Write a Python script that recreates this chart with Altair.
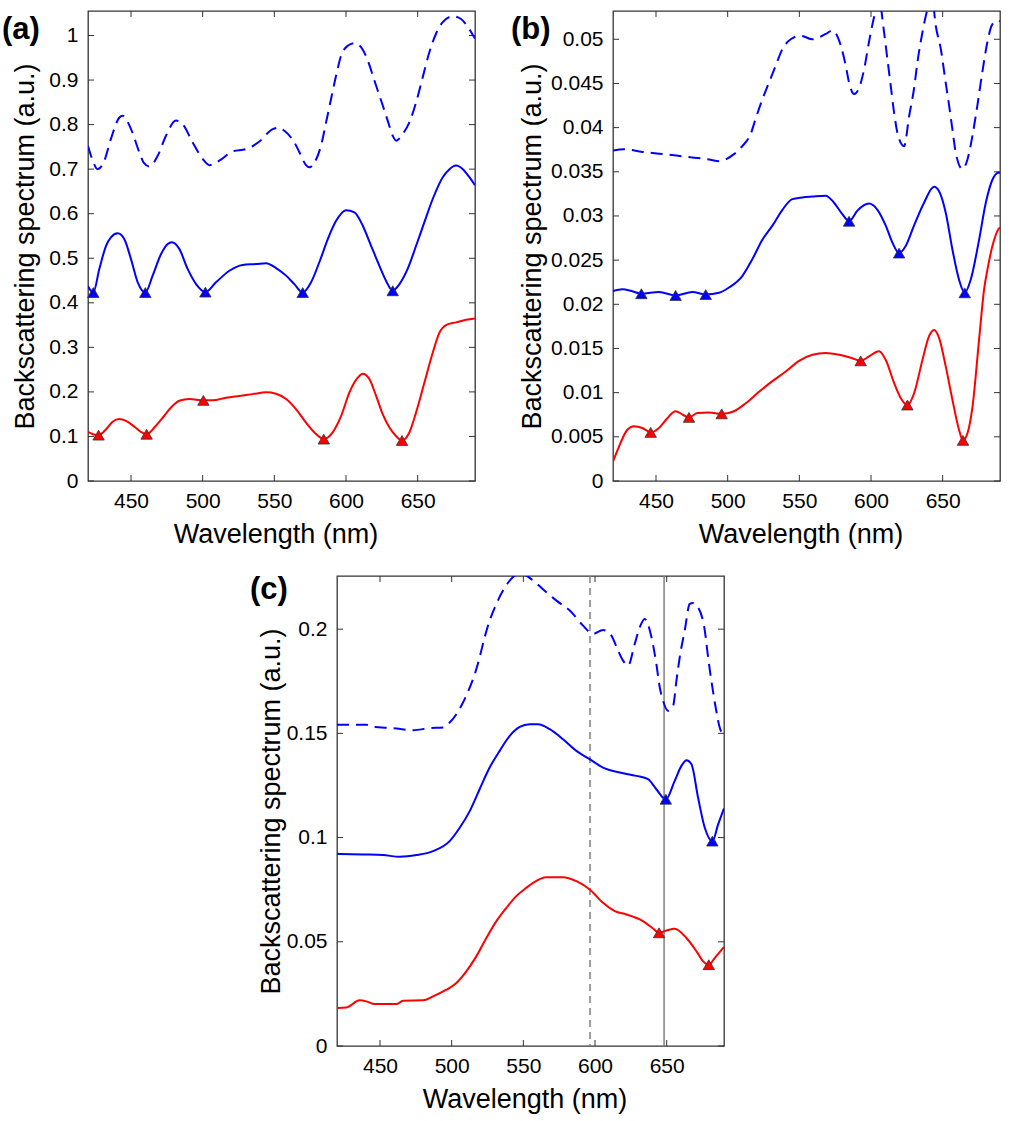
import altair as alt
import pandas as pd

FONT = "Liberation Sans"
BLUE = "#0000ff"
RED = "#ff0000"
EDGE = "#333333"
FRAME = "#333333"
VLINE = "#808080"

X_TICKS = [450, 500, 550, 600, 650]
X_DOMAIN = [420, 690]
W, H = 387, 470
X_TITLE = "Wavelength (nm)"
Y_TITLE = "Backscattering spectrum (a.u.)"

# ---------------- panel (a) ----------------
A_YTICKS = [0, 0.1, 0.2, 0.3, 0.4, 0.5, 0.6, 0.7, 0.8, 0.9, 1]
A_YMAX = 1.055
A_DASH_WL = [420, 423, 426.7, 431.4, 436, 441.9, 444.2, 450, 455.8, 459, 462.8, 468.6, 474.4, 481.4, 486, 493,
             500, 504.7, 511.6, 521, 530.3, 539.6, 548.9, 553.5, 557, 564, 567.5, 572.1, 574.5, 578, 582.6, 586.1,
             589.6, 593.1, 596.6, 601.2, 605.9, 610.5, 615.2, 619.8, 624.5, 629.1, 632.6, 635, 639.6, 644.2, 648.9,
             653.5, 658.2, 662.8, 667.5, 674.5, 680.3, 685, 690]
A_DASH_VAL = [0.752, 0.722, 0.700, 0.719, 0.768, 0.816, 0.820, 0.790, 0.738, 0.714, 0.706, 0.730, 0.775, 0.809, 0.801, 0.760,
              0.723, 0.709, 0.719, 0.740, 0.745, 0.762, 0.790, 0.793, 0.786, 0.760, 0.738, 0.709, 0.704, 0.715, 0.753, 0.805,
              0.858, 0.910, 0.955, 0.977, 0.983, 0.974, 0.944, 0.899, 0.854, 0.809, 0.775, 0.764, 0.779, 0.805, 0.850,
              0.906, 0.963, 1.004, 1.030, 1.043, 1.037, 1.019, 0.993]
A_BLUE_WL = [420, 423.7, 427.9, 432.6, 436, 440.7, 445.3, 450, 454.7, 460, 465.1, 470.9, 475.6, 478.6, 483.7, 489.5,
             495.4, 501.9, 509.3, 518.6, 527.9, 537.2, 544.2, 551.2, 558.2, 564, 569.8, 575.6, 581.4, 587.3, 593.1, 600,
             605.9, 611.7, 617.5, 623.3, 628, 632.6, 637.3, 643, 648.9, 654.7, 660.5, 667.5, 672.2, 676.8, 681.5, 686.1, 690]
A_BLUE_VAL = [0.437, 0.423, 0.476, 0.528, 0.547, 0.556, 0.543, 0.498, 0.446, 0.423, 0.461, 0.509, 0.532, 0.536, 0.521, 0.476,
              0.442, 0.424, 0.446, 0.472, 0.485, 0.487, 0.489, 0.478, 0.461, 0.442, 0.423, 0.446, 0.491, 0.543, 0.584, 0.608,
              0.603, 0.573, 0.528, 0.483, 0.449, 0.427, 0.442, 0.476, 0.528, 0.581, 0.633, 0.682, 0.700, 0.708, 0.700, 0.682, 0.664]
A_RED_WL = [420, 423.5, 427.4, 432.6, 437.2, 441.9, 446.5, 452.3, 457, 460.9, 466.3, 472.1, 477.9, 483.7, 490.7, 500.5,
            507, 516.3, 525.6, 534.9, 544.2, 551.2, 558.2, 565.2, 572.1, 578, 584.5, 590.7, 596.6, 602.4, 608.2, 611.7,
            616.3, 621, 625.6, 630.3, 634.9, 639.1, 644.2, 648.9, 654.7, 660.5, 665.2, 669.8, 676.8, 683.8, 690]
A_RED_VAL = [0.110, 0.105, 0.103, 0.116, 0.133, 0.139, 0.135, 0.122, 0.110, 0.105, 0.120, 0.142, 0.165, 0.180, 0.184, 0.181,
             0.181, 0.187, 0.191, 0.195, 0.199, 0.196, 0.184, 0.161, 0.131, 0.109, 0.094, 0.109, 0.146, 0.199, 0.232, 0.241,
             0.229, 0.191, 0.150, 0.120, 0.101, 0.091, 0.109, 0.154, 0.221, 0.288, 0.333, 0.350, 0.356, 0.362, 0.365]
A_BMARK_WL = [423.7, 460, 501.9, 569.8, 632.6]
A_BMARK_VAL = [0.423, 0.423, 0.424, 0.423, 0.427]
A_RMARK_WL = [427.4, 460.9, 500.5, 584.5, 639.1]
A_RMARK_VAL = [0.103, 0.105, 0.181, 0.094, 0.091]

# ---------------- panel (b) ----------------
B_YTICKS = [0, 0.005, 0.01, 0.015, 0.02, 0.025, 0.03, 0.035, 0.04, 0.045, 0.05]
B_YMAX = 0.0532
B_DASH_WL = [420, 427.7, 440.5, 455.6, 470.7, 487, 494, 498.6, 504.4, 510.2, 516.1, 519.5, 524.2, 528.8, 533.5, 538.2,
             544, 550.9, 559.1, 568.4, 573.1, 578.9, 582.4, 584.7, 588.2, 591.7, 595.2, 598.6, 602.1, 605.5, 609.1,
             611.4, 613.8, 616.1, 618.9, 623.1, 626.6, 630, 632.4, 635.9, 639.4, 642.5, 645.2, 648.7, 652.1, 654.5,
             656.8, 659.1, 663.8, 667.3, 670.8, 674.2, 677.7, 681.2, 684.7, 688.9, 690]
B_DASH_VAL = [0.0374, 0.03755, 0.03725, 0.0370, 0.0367, 0.0364, 0.0362, 0.0364, 0.0370, 0.0379, 0.0393, 0.0410, 0.0432, 0.0451, 0.0470, 0.0489,
              0.0500, 0.0504, 0.0500, 0.0506, 0.0510, 0.0493, 0.0470, 0.0451, 0.0438, 0.0445, 0.0466, 0.0497, 0.0525, 0.0545, 0.0508,
              0.0478, 0.0447, 0.0417, 0.0391, 0.0379, 0.0413, 0.0444, 0.0474, 0.0508, 0.0534, 0.0548, 0.0515, 0.0489, 0.0451, 0.0425,
              0.0398, 0.0372, 0.0353, 0.0364, 0.0391, 0.0425, 0.0463, 0.0497, 0.0517, 0.0521, 0.0520]
B_BLUE_WL = [420, 426.5, 433, 439.8, 452.1, 463.7, 475.4, 484.7, 494, 500.9, 510.2, 517.2, 524.2, 531.2, 538.2, 545.1,
             552.1, 559.1, 568.4, 574.2, 580, 584.7, 590.5, 598.6, 604.5, 610.3, 614.9, 619.6, 624.2, 630, 637, 644,
             647.5, 652.1, 656.8, 661.4, 665.4, 669.6, 675.4, 680.1, 684.7, 688.9, 690]
B_BLUE_VAL = [0.0215, 0.0217, 0.0215, 0.0212, 0.0214, 0.0210, 0.0214, 0.0211, 0.0213, 0.0219, 0.0232, 0.0251, 0.0273, 0.0289, 0.0307, 0.0319,
              0.0321, 0.0322, 0.0323, 0.0315, 0.0302, 0.0294, 0.0306, 0.0314, 0.0307, 0.0289, 0.0270, 0.0258, 0.0266, 0.0289, 0.0315, 0.0333,
              0.0328, 0.0304, 0.0262, 0.0228, 0.0213, 0.0228, 0.0273, 0.0315, 0.0341, 0.0349, 0.0349]
B_RED_WL = [420, 424.2, 430, 434.6, 440.5, 446.3, 452.1, 457.9, 463.7, 468.8, 473, 478.8, 487, 495.8, 504.4, 512.6,
            521.9, 531.2, 540.5, 549.8, 559.1, 568.4, 577.7, 587, 592.8, 598.6, 605.6, 610.3, 616.1, 620.7, 625.4, 630,
            635.9, 640.5, 644, 647.5, 652.1, 656.8, 661.4, 664.2, 667.3, 670.8, 675.4, 678.9, 681.2, 684.7, 688.9, 690]
B_RED_VAL = [0.0022, 0.0039, 0.0058, 0.0062, 0.0060, 0.0055, 0.0060, 0.0071, 0.0079, 0.0075, 0.0072, 0.0077, 0.00775, 0.0076, 0.0079, 0.0088,
             0.0101, 0.0113, 0.0124, 0.0136, 0.0143, 0.0145, 0.0143, 0.0139, 0.0136, 0.0141, 0.0147, 0.0137, 0.0111, 0.0094, 0.0086, 0.0099,
             0.0137, 0.0164, 0.0171, 0.0162, 0.0130, 0.0092, 0.0058, 0.0046, 0.0054, 0.0084, 0.0160, 0.0217, 0.0239, 0.0266, 0.0285, 0.0287]
B_BMARK_WL = [439.8, 463.7, 484.7, 584.7, 619.6, 665.4]
B_BMARK_VAL = [0.0212, 0.0210, 0.0211, 0.0294, 0.0258, 0.0213]
B_RMARK_WL = [446.3, 473, 495.8, 592.8, 625.4, 664.2]
B_RMARK_VAL = [0.0055, 0.0072, 0.0076, 0.0136, 0.0086, 0.0046]

# ---------------- panel (c) ----------------
C_YTICKS = [0, 0.05, 0.1, 0.15, 0.2]
C_YMAX = 0.2255
C_DASH_WL = [420, 440.5, 445.1, 459, 473, 484.7, 494, 498.6, 503.3, 507.9, 512.6, 516.1, 519.5, 523, 526.5, 531.2,
             535.8, 540.5, 545.1, 549.8, 556.8, 566.1, 573.1, 582.4, 591.7, 598.6, 605.6, 611.4, 616.1, 619.6, 623.1,
             627.7, 631.2, 634.7, 639.4, 642.8, 645.2, 647.5, 651, 654.5, 656.8, 659.1, 662.6, 666.1, 668.4, 671.9,
             676.6, 678.9, 681.2, 684.2, 687, 690]
C_DASH_VAL = [0.1541, 0.1541, 0.1531, 0.1525, 0.1515, 0.1525, 0.1528, 0.1552, 0.1592, 0.1648, 0.1720, 0.1784, 0.1865, 0.1961, 0.2041, 0.2121,
              0.2185, 0.2233, 0.2260, 0.2262, 0.2233, 0.2177, 0.2137, 0.2089, 0.2017, 0.1977, 0.1996, 0.1969, 0.1897, 0.1849, 0.1825,
              0.1929, 0.2009, 0.2049, 0.1961, 0.1833, 0.1720, 0.1656, 0.1608, 0.1632, 0.1752, 0.1865, 0.1993, 0.2121, 0.2126, 0.2105,
              0.1993, 0.1865, 0.1752, 0.1624, 0.1528, 0.1488]
C_BLUE_WL = [420, 438.1, 452.1, 463.7, 475.4, 487, 498.6, 505.6, 512.6, 519.5, 526.5, 533.5, 540.5, 547.5, 554.4, 560.3,
             568.4, 577.7, 587, 596.3, 605.6, 617.3, 628.9, 637, 642.8, 649.4, 655.6, 660.3, 663.8, 667.3, 671.9, 676.6,
             681.9, 685.9, 690]
C_BLUE_VAL = [0.0922, 0.0919, 0.0916, 0.0908, 0.0916, 0.0935, 0.0983, 0.1047, 0.1127, 0.1232, 0.1336, 0.1416, 0.1488, 0.1531, 0.1544, 0.1544,
              0.1520, 0.1472, 0.1416, 0.1376, 0.1336, 0.1312, 0.1296, 0.1280, 0.1232, 0.1184, 0.1272, 0.1344, 0.1371, 0.1352, 0.1192, 0.1047,
              0.0983, 0.1063, 0.1140]
C_RED_WL = [420, 426.5, 435.8, 440.5, 446.3, 461.4, 466, 480, 487, 496.3, 503.3, 510.2, 517.2, 524.2, 531.2, 538.2,
            545.1, 552.1, 556.8, 566.1, 577.7, 587, 596.3, 605.6, 613.8, 621.9, 631.2, 639.4, 644.7, 649.8, 655.6, 663.8,
            670.8, 675.4, 679.4, 683.5, 690]
C_RED_VAL = [0.0182, 0.0185, 0.0219, 0.0214, 0.0201, 0.0201, 0.0217, 0.0219, 0.0238, 0.0270, 0.0302, 0.0358, 0.0430, 0.0518, 0.0599, 0.0663,
             0.0719, 0.0759, 0.0783, 0.0810, 0.0810, 0.0791, 0.0751, 0.0687, 0.0647, 0.0631, 0.0607, 0.0570, 0.0543, 0.0554, 0.0563, 0.0518,
             0.0454, 0.0406, 0.0390, 0.0422, 0.0475]
C_BMARK_WL = [649.4, 681.9]
C_BMARK_VAL = [0.1184, 0.0983]
C_RMARK_WL = [644.7, 679.4]
C_RMARK_VAL = [0.0543, 0.0390]
C_VLINE_DASHED = [596.5]
C_VLINE_SOLID = [648.2]

PANEL_LABELS = ["(a)", "(b)", "(c)"]


def df(wl, val=None):
    d = {"wl": wl}
    if val is not None:
        d["val"] = val
    return pd.DataFrame(d)


def panel(dash, blue, red, bmark, rmark, ymax, yticks, ytitle_x, label, label_dx, label_down,
          vdash=None, vsolid=None):
    xs = alt.Scale(domain=X_DOMAIN, nice=False, zero=False)
    ys = alt.Scale(domain=[0, ymax], nice=False, zero=False)
    xax = alt.Axis(values=X_TICKS, title=X_TITLE, domain=False, ticks=False, tickSize=0, grid=False,
                   labelFont=FONT, labelFontSize=21, labelColor="black", labelPadding=26,
                   labelBaseline="alphabetic", labelFlush=False, labelOverlap=False,
                   titleFont=FONT, titleFontSize=27, titleFontWeight="normal", titleColor="black",
                   titleX=W / 2 - 6, titleY=61, titleBaseline="alphabetic", titleAlign="center")
    yax = alt.Axis(values=yticks, title=Y_TITLE, format="~g", domain=False, ticks=False, tickSize=0, grid=False,
                   labelFont=FONT, labelFontSize=21, labelColor="black", labelPadding=10,
                   labelFlush=False, labelOverlap=False,
                   titleFont=FONT, titleFontSize=27, titleFontWeight="normal", titleColor="black",
                   titleX=ytitle_x, titleY=H / 2, titleAngle=270, titleBaseline="alphabetic",
                   titleAlign="center")
    X = alt.X("wl:Q", scale=xs, axis=xax)
    Y = alt.Y("val:Q", scale=ys, axis=yax)

    yt = pd.DataFrame({"val": yticks})
    xt = pd.DataFrame({"wl": X_TICKS})
    tick = dict(color=FRAME, strokeWidth=1)
    layers = [
        alt.Chart(yt).mark_rule(**tick).encode(y=Y, x=alt.value(0), x2=alt.value(6)),
        alt.Chart(yt).mark_rule(**tick).encode(y=Y, x=alt.value(W - 6), x2=alt.value(W)),
        alt.Chart(xt).mark_rule(**tick).encode(x=X, y=alt.value(H - 6), y2=alt.value(H)),
        alt.Chart(xt).mark_rule(**tick).encode(x=X, y=alt.value(0), y2=alt.value(6)),
    ]
    if vdash is not None:
        layers.append(alt.Chart(df(vdash)).mark_rule(color=VLINE, strokeWidth=1.5, strokeDash=[7, 5]).encode(x=X))
    if vsolid is not None:
        layers.append(alt.Chart(df(vsolid)).mark_rule(color=VLINE, strokeWidth=1.5).encode(x=X))
    layers += [
        alt.Chart(df(*dash)).mark_line(color=BLUE, strokeWidth=2, strokeDash=[12, 7], clip=True,
                                       interpolate="monotone").encode(x=X, y=Y),
        alt.Chart(df(*blue)).mark_line(color=BLUE, strokeWidth=2, clip=True,
                                       interpolate="monotone").encode(x=X, y=Y),
        alt.Chart(df(*red)).mark_line(color=RED, strokeWidth=2, clip=True,
                                      interpolate="monotone").encode(x=X, y=Y),
        alt.Chart(df(*bmark)).mark_point(shape="triangle-up", size=130, filled=True, fill=BLUE, stroke=EDGE,
                                         strokeWidth=0.8, opacity=1).encode(x=X, y=Y),
        alt.Chart(df(*rmark)).mark_point(shape="triangle-up", size=130, filled=True, fill=RED, stroke=EDGE,
                                         strokeWidth=0.8, opacity=1).encode(x=X, y=Y),
        # panel label, placed in the left margin
        alt.Chart(pd.DataFrame({"t": [label]})).mark_text(
            align="left", baseline="alphabetic", font=FONT, fontSize=31, fontWeight="bold", color="black"
        ).encode(text="t:N", x=alt.value(label_dx), y=alt.value(label_down)),
    ]
    return alt.layer(*layers).properties(
        width=W, height=H,
        view=alt.ViewBackground(stroke=FRAME, strokeWidth=1.3),
    )


pa = panel((A_DASH_WL, A_DASH_VAL), (A_BLUE_WL, A_BLUE_VAL), (A_RED_WL, A_RED_VAL),
           (A_BMARK_WL, A_BMARK_VAL), (A_RMARK_WL, A_RMARK_VAL), A_YMAX, A_YTICKS, -55,
           PANEL_LABELS[0], -86, 27.5)
pb = panel((B_DASH_WL, B_DASH_VAL), (B_BLUE_WL, B_BLUE_VAL), (B_RED_WL, B_RED_VAL),
           (B_BMARK_WL, B_BMARK_VAL), (B_RMARK_WL, B_RMARK_VAL), B_YMAX, B_YTICKS, -73,
           PANEL_LABELS[1], -102, 27.5)
pc = panel((C_DASH_WL, C_DASH_VAL), (C_BLUE_WL, C_BLUE_VAL), (C_RED_WL, C_RED_VAL),
           (C_BMARK_WL, C_BMARK_VAL), (C_RMARK_WL, C_RMARK_VAL), C_YMAX, C_YTICKS, -58,
           PANEL_LABELS[2], -87, 23, vdash=C_VLINE_DASHED, vsolid=C_VLINE_SOLID)

spacer = alt.Chart(pd.DataFrame({"z": [0]})).mark_point(opacity=0).properties(
    width=249, height=10, view=alt.ViewBackground(stroke="transparent"))

top = alt.hconcat(pa, pb, spacing=138, bounds="flush")
bottom = alt.hconcat(spacer, pc, spacing=0, bounds="flush")
chart = alt.vconcat(top, bottom, spacing=25).properties(
    padding={"left": 1, "top": 9, "right": 5, "bottom": 5}
).configure_view(stroke="transparent").configure(background="white")

chart.save("out.html", embed_options={"renderer": "svg", "actions": False})
